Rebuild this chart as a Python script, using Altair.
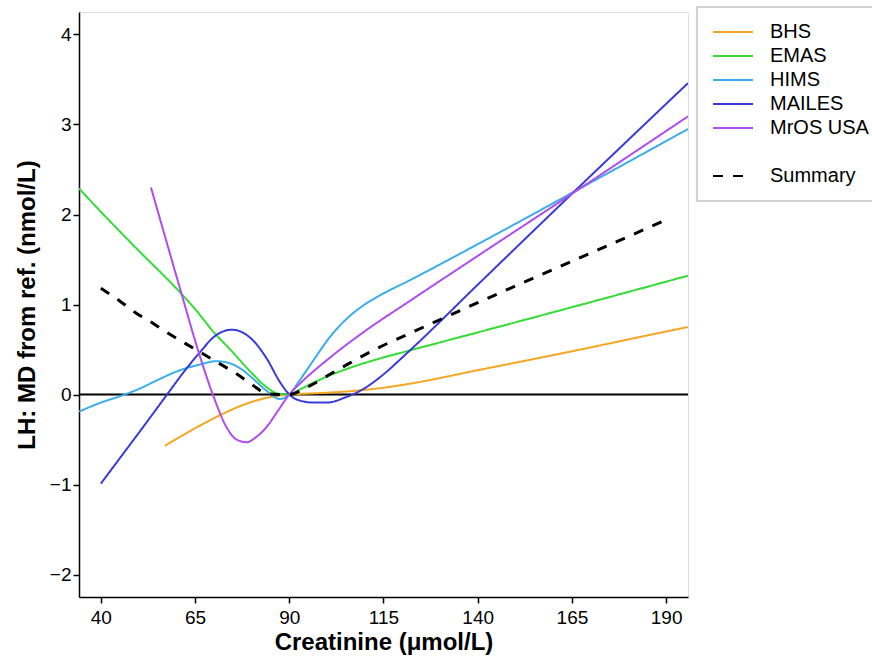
import altair as alt
import pandas as pd

FONT = "Liberation Sans"

BLANK = "\u00a0"
series_names = ["BHS", "EMAS", "HIMS", "MAILES", "MrOS USA", BLANK, "Summary"]
series_colors = ["#F5A623", "#33DD33", "#3AADEA", "#3A3ADA", "#B04CF0", "transparent", "#000000"]
series_dashes = [[1, 0], [1, 0], [1, 0], [1, 0], [1, 0], [1, 0], [10, 10]]

x_ticks = [40, 65, 90, 115, 140, 165, 190]
y_ticks = [-2, -1, 0, 1, 2, 3, 4]

bhs_x = [57, 61, 66.3, 71.6, 76.9, 82.2, 87.5, 90, 95, 100, 107, 114, 122, 140, 165, 190, 195.8]
bhs_y = [-0.57, -0.47, -0.345, -0.23, -0.13, -0.055, -0.012, 0.0, 0.01, 0.02, 0.04, 0.07, 0.12, 0.27, 0.48, 0.70, 0.75]

emas_x = [34.2, 40, 50, 60, 65, 70, 75, 80, 84, 87, 90, 93, 96.4, 100, 105, 114, 122, 140, 165, 195.8]
emas_y = [2.29, 2.03, 1.60, 1.18, 0.95, 0.69, 0.47, 0.24, 0.08, 0.01, 0.0, 0.06, 0.13, 0.20, 0.28, 0.40, 0.49, 0.69, 0.97, 1.32]

hims_x = [34.2, 40, 45, 50, 55, 61, 66, 70.7, 74, 77, 80, 84, 87.5, 90, 92.8, 96.4, 100.8, 105.2, 110, 114, 122, 140, 165, 195.8]
hims_y = [-0.19, -0.09, -0.02, 0.06, 0.16, 0.27, 0.33, 0.37, 0.35, 0.29, 0.19, 0.04, -0.05, 0.0, 0.16, 0.38, 0.64, 0.84, 1.00, 1.10, 1.27, 1.67, 2.24, 2.95]

mailes_x = [40, 45, 50, 57.4, 62, 66.3, 70, 74.7, 78, 80.4, 84, 87.5, 90, 93, 96.4, 100, 105, 110, 114, 122, 140, 165, 195.8]
mailes_y = [-0.99, -0.71, -0.43, -0.01, 0.25, 0.47, 0.64, 0.72, 0.68, 0.60, 0.40, 0.14, 0.0, -0.07, -0.09, -0.09, -0.03, 0.07, 0.19, 0.49, 1.22, 2.23, 3.46]

mros_x = [53.3, 57, 61.4, 65.8, 69.8, 73.3, 76, 78.7, 81, 84, 87, 90, 92.8, 100.8, 109.6, 122, 140, 165, 195.8]
mros_y = [2.30, 1.76, 1.12, 0.49, -0.01, -0.36, -0.50, -0.53, -0.48, -0.36, -0.18, 0.0, 0.12, 0.41, 0.69, 1.04, 1.54, 2.23, 3.09]

summary_x = [40, 45, 49.5, 53.9, 58.3, 62.7, 67.2, 71.6, 76, 80.4, 84, 87, 90, 94.6, 103.5, 113.2, 122, 140, 165, 190]
summary_y = [1.18, 1.04, 0.90, 0.79, 0.67, 0.56, 0.45, 0.34, 0.23, 0.10, 0.01, 0.0, 0.0, 0.08, 0.29, 0.51, 0.68, 1.02, 1.48, 1.94]

groups = [
    ("BHS", bhs_x, bhs_y),
    ("EMAS", emas_x, emas_y),
    ("HIMS", hims_x, hims_y),
    ("MAILES", mailes_x, mailes_y),
    ("MrOS USA", mros_x, mros_y),
    ("Summary", summary_x, summary_y),
]
rows = []
for name, xs, ys in groups:
    for i, (xv, yv) in enumerate(zip(xs, ys)):
        rows.append({"series": name, "creat": xv, "md": yv, "i": i})
df = pd.DataFrame(rows)

x_scale = alt.Scale(domain=[34.2, 195.8], nice=False, zero=False)
y_scale = alt.Scale(domain=[-2.25, 4.25], nice=False, zero=False)

axis_common = dict(
    grid=False, labelFontSize=19, labelFont=FONT, titleFont=FONT, titleFontSize=24,
    titleFontWeight="bold", labelColor="black", titleColor="black",
    domainColor="black", domainWidth=1.5, tickColor="black", tickWidth=1.5, tickSize=6,
)

x_enc = alt.X("creat:Q", scale=x_scale,
              axis=alt.Axis(values=x_ticks, title="Creatinine (μmol/L)", labelPadding=5,
                            titlePadding=3, labelFlush=False, format="d", **axis_common))
y_enc = alt.Y("md:Q", scale=y_scale,
              axis=alt.Axis(values=y_ticks, title="LH: MD from ref. (nmol/L)", labelPadding=2,
                            titlePadding=10, format="d", **axis_common))

legend = alt.Legend(
    title=None, orient="none", legendX=618, legendY=-5, symbolType="stroke",
    symbolSize=1600, symbolStrokeWidth=2, clipHeight=20, rowPadding=4,
    labelFontSize=20, labelFont=FONT, labelColor="black", labelOffset=16,
    labelLimit=600, padding=15,
)
color_enc = alt.Color("series:N", scale=alt.Scale(domain=series_names, range=series_colors), legend=legend)
dash_enc = alt.StrokeDash("series:N", scale=alt.Scale(domain=series_names, range=series_dashes), legend=legend)

zero_line = alt.Chart(pd.DataFrame({"md": [0]})).mark_rule(color="black", strokeWidth=2).encode(
    y=alt.Y("md:Q", scale=y_scale)
)

study_lines = alt.Chart(df).transform_filter(alt.datum.series != "Summary").mark_line(
    interpolate="monotone", clip=True, strokeWidth=2
).encode(x=x_enc, y=y_enc, color=color_enc, strokeDash=dash_enc, order="i:Q")

summary_line = alt.Chart(df).transform_filter(alt.datum.series == "Summary").mark_line(
    interpolate="monotone", clip=True, strokeWidth=3
).encode(x=x_enc, y=y_enc, color=color_enc, strokeDash=dash_enc, order="i:Q")

chart = alt.layer(zero_line, study_lines, summary_line).properties(
    width=609, height=585,
    autosize=alt.AutoSizeParams(type="none"),
    padding={"left": 79, "top": 12, "right": 184, "bottom": 69},
).configure_view(stroke=None).configure(background="white").configure_legend(
    strokeColor="#C4C4C4", fillColor="white", strokeWidth=1.5
)

chart.save("out.html", embed_options={"renderer": "svg", "actions": False})
